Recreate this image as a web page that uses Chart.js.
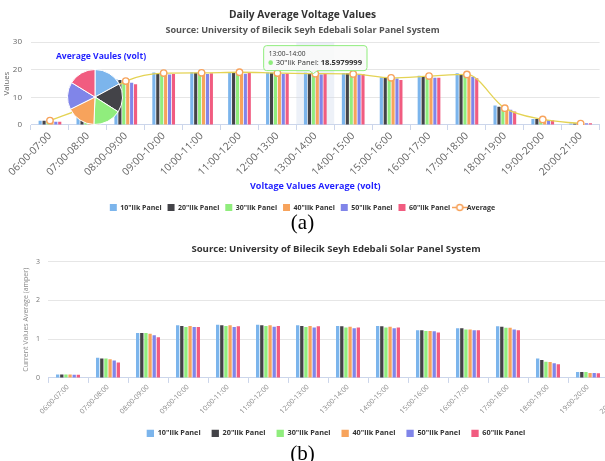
<!DOCTYPE html>
<html>
<head>
<meta charset="utf-8">
<script src="https://cdn.jsdelivr.net/npm/chart.js@4.4.0/dist/chart.umd.min.js"></script>
<style>
  html, body { margin:0; padding:0; background:#fff; }
  body { width:605px; height:461px; overflow:hidden; position:relative; }
  .box { position:absolute; }
  .cap { position:absolute; left:0; width:605px; text-align:center; font-family:"Liberation Serif", serif; font-size:21px; color:#000; line-height:22px; }
  #pieTitle { position:absolute; left:51px; top:50px; width:100px; text-align:center; font-family:"Open Sans", sans-serif; font-weight:bold; font-size:8.6px; color:#1f1fff; line-height:12px; white-space:nowrap; }
</style>
</head>
<body>
<div class="box" id="wrapA" style="left:0;top:0;width:605px;height:221px;"><canvas id="chartA"></canvas></div>
<div class="box" id="wrapPie" style="left:66px;top:68px;width:58px;height:58px;"><canvas id="chartPie"></canvas></div>
<div id="pieTitle">Average Vaules (volt)</div>
<div class="cap" style="top:211px;">(a)</div>
<div class="box" id="wrapB" style="left:0;top:233px;width:648px;height:214px;"><canvas id="chartB"></canvas></div>
<div class="cap" style="top:442px;">(b)</div>
<script>
// ---------- data ----------
const categories = ['06:00-07:00','07:00-08:00','08:00-09:00','09:00-10:00','10:00-11:00','11:00-12:00','12:00-13:00','13:00-14:00','14:00-15:00','15:00-16:00','16:00-17:00','17:00-18:00','18:00-19:00','19:00-20:00','20:00-21:00'];
const seriesNames = ['10"lik Panel','20"lik Panel','30"lik Panel','40"lik Panel','50"lik Panel','60"lik Panel'];

// voltage (a)
const volt10 = [1.5, 7.6, 16.6, 19.0, 19.1, 19.2, 19.0, 18.9, 18.8, 17.3, 17.8, 18.7, 7.1, 2.2, 0.5];
const volt20 = [1.5, 7.2, 16.3, 18.8, 18.9, 19.0, 18.9, 18.8, 18.7, 17.1, 17.7, 18.5, 6.6, 2.2, 0.5];
const volt30 = [1.5, 7.0, 16.2, 18.9, 18.9, 19.0, 18.8, 18.5979999, 18.6, 17.0, 17.5, 18.3, 5.8, 1.4, 0.4];
const volt40 = [1.4, 6.8, 16.3, 19.0, 19.1, 19.2, 19.0, 19.0, 18.9, 17.2, 17.8, 18.4, 6.2, 2.2, 0.5];
const volt50 = [1.2, 6.3, 15.3, 18.3, 18.5, 18.6, 18.5, 18.3, 18.3, 16.8, 17.1, 17.5, 5.5, 1.8, 0.6];
const volt60 = [1.2, 5.8, 14.8, 18.5, 18.7, 18.8, 18.7, 18.5, 18.5, 16.3, 17.1, 16.9, 4.9, 1.7, 0.6];
const voltAvg = [1.6, 7.0, 15.9, 18.8, 18.9, 19.1, 18.8, 18.6, 18.5, 17.1, 17.7, 18.3, 6.1, 2.0, 0.5];

// pie (average values, volt)
const pieValues = [13.2, 13.0, 12.8, 13.1, 12.4, 12.5];

// current (b)
const cur10 = [0.09, 0.52, 1.16, 1.36, 1.37, 1.37, 1.36, 1.34, 1.34, 1.23, 1.28, 1.33, 0.50, 0.15, 0.02];
const cur20 = [0.09, 0.50, 1.16, 1.34, 1.36, 1.36, 1.34, 1.33, 1.33, 1.23, 1.28, 1.32, 0.46, 0.15, 0.02];
const cur30 = [0.09, 0.50, 1.16, 1.31, 1.34, 1.34, 1.31, 1.30, 1.30, 1.21, 1.25, 1.29, 0.42, 0.15, 0.02];
const cur40 = [0.09, 0.48, 1.14, 1.34, 1.36, 1.36, 1.34, 1.32, 1.32, 1.21, 1.25, 1.29, 0.41, 0.13, 0.02];
const cur50 = [0.08, 0.45, 1.10, 1.31, 1.31, 1.32, 1.30, 1.28, 1.28, 1.20, 1.23, 1.25, 0.38, 0.13, 0.02];
const cur60 = [0.08, 0.40, 1.05, 1.31, 1.33, 1.34, 1.33, 1.30, 1.30, 1.17, 1.23, 1.23, 0.35, 0.12, 0.02];

const voltYTicks = [0, 10, 20, 30];
const curYTicks = [0, 1, 2, 3];
const tooltipIndex = 7, tooltipSeries = 2;

// ---------- styles ----------
const colors = ['#7cb5ec','#434348','#90ed7d','#f7a35c','#8085e9','#f15c80'];
const avgLine = '#e4d354', avgMarker = '#f7a35c';
const FONT = '"Open Sans", "DejaVu Sans", sans-serif';
Chart.defaults.font.family = FONT;
Chart.defaults.animation = false;

// legend symbol for the Average series
const avgSym = document.createElement('canvas');
avgSym.width = 16; avgSym.height = 9;
(() => { const c = avgSym.getContext('2d');
  c.strokeStyle = avgMarker; c.lineWidth = 1.5;
  c.beginPath(); c.moveTo(0,4.5); c.lineTo(16,4.5); c.stroke();
  c.fillStyle = '#fff'; c.beginPath(); c.arc(8,4.5,3,0,Math.PI*2); c.fill(); c.stroke(); })();

function legendLabels(chart) {
  return chart.data.datasets.map((ds, i) => {
    const isLine = ds.type === 'line';
    return { text: ds.label, fillStyle: isLine ? '#fff' : ds.backgroundColor,
      strokeStyle: isLine ? avgMarker : ds.backgroundColor, lineWidth: 0,
      pointStyle: isLine ? avgSym : 'rect', datasetIndex: i, hidden: false, fontColor: '#333' };
  });
}

// highlight band + tooltip for chart (a)
const highlightPlugin = {
  id: 'hl',
  beforeDatasetsDraw(chart) {
    const x = chart.scales.x, a = chart.chartArea, ctx = chart.ctx;
    const w = x.width / categories.length;
    const cx = x.getPixelForValue(tooltipIndex);
    ctx.save(); ctx.fillStyle = 'rgba(204,214,235,0.35)';
    ctx.fillRect(cx - w/2, a.top, w, a.bottom - a.top); ctx.restore();
  },
  afterDraw(chart) {
    const ctx = chart.ctx;
    const el = chart.getDatasetMeta(tooltipSeries).data[tooltipIndex];
    const bx = el.x, by = el.y;
    const title = categories[tooltipIndex].replace('-', '\u2013');
    const name = chart.data.datasets[tooltipSeries].label + ': ';
    const val = String(chart.data.datasets[tooltipSeries].data[tooltipIndex]);
    ctx.save();
    ctx.font = '6.6px ' + FONT; const tw = ctx.measureText(title).width;
    ctx.font = '7.6px ' + FONT; const nw = ctx.measureText(name).width;
    ctx.font = 'bold 7.6px ' + FONT; const vw = ctx.measureText(val).width;
    const W = Math.max(tw, nw + vw + 7) + 10, H = 25;
    const left = bx - W/2 + 2, bottom = by - 3, top = bottom - H, r = 3;
    ctx.beginPath();
    ctx.moveTo(left + r, top); ctx.lineTo(left + W - r, top); ctx.arcTo(left+W, top, left+W, top+r, r);
    ctx.lineTo(left + W, bottom - r); ctx.arcTo(left+W, bottom, left+W-r, bottom, r);
    ctx.lineTo(bx + 4, bottom); ctx.lineTo(bx, bottom + 3); ctx.lineTo(bx - 4, bottom);
    ctx.lineTo(left + r, bottom); ctx.arcTo(left, bottom, left, bottom - r, r);
    ctx.lineTo(left, top + r); ctx.arcTo(left, top, left + r, top, r); ctx.closePath();
    ctx.fillStyle = 'rgba(250,250,250,0.92)'; ctx.fill();
    ctx.strokeStyle = colors[tooltipSeries]; ctx.lineWidth = 1; ctx.stroke();
    ctx.textBaseline = 'middle'; ctx.fillStyle = '#333';
    ctx.font = '6.6px ' + FONT; ctx.fillText(title, left + 5, top + 8);
    ctx.fillStyle = colors[tooltipSeries]; ctx.beginPath(); ctx.arc(left + 7, top + 17, 2.3, 0, Math.PI*2); ctx.fill();
    ctx.fillStyle = '#333'; ctx.font = '7.6px ' + FONT; ctx.fillText(name, left + 12, top + 17);
    ctx.font = 'bold 7.6px ' + FONT; ctx.fillText(val, left + 12 + nw, top + 17);
    ctx.restore();
  }
};

// ---------- chart (a) ----------
const voltSeries = [volt10, volt20, volt30, volt40, volt50, volt60];
new Chart(document.getElementById('chartA'), {
  type: 'bar',
  data: {
    labels: categories,
    datasets: voltSeries.map((d, i) => ({ type: 'bar', label: seriesNames[i], data: d, backgroundColor: colors[i],
      categoryPercentage: 0.62, barPercentage: 0.8, order: 1 })).concat([{
      type: 'line', label: 'Average', data: voltAvg, borderColor: avgLine, backgroundColor: '#fff', borderWidth: 1.3,
      cubicInterpolationMode: 'monotone', pointRadius: 3.2, pointBackgroundColor: '#fff', pointBorderColor: avgMarker,
      pointBorderWidth: 1.4, order: 0 }])
  },
  options: {
    responsive: true, maintainAspectRatio: false,
    layout: { padding: { left: 0, right: 0, top: 0, bottom: 0 } },
    plugins: {
      title: { display: true, text: 'Daily Average Voltage Values', color: '#333', font: { size: 10.2, weight: 'bold' }, padding: { top: 9, bottom: 3 } },
      subtitle: { display: true, text: 'Source: University of Bilecik Seyh Edebali Solar Panel System', color: '#555', font: { size: 9.1, weight: 'bold' }, padding: { top: 1, bottom: 6 } },
      legend: { position: 'bottom', labels: { usePointStyle: true, generateLabels: legendLabels, boxWidth: 8, boxHeight: 8, font: { size: 7, weight: 'bold' }, color: '#333', padding: 6 } },
      tooltip: { enabled: false }
    },
    scales: {
      x: {
        afterFit(s) { s.height = s.height + 3; },
        grid: { display: true, offset: true, drawOnChartArea: false, drawTicks: true, tickLength: 5, color: '#ccd6eb' },
        border: { color: '#ccd6eb' },
        ticks: { minRotation: 45, maxRotation: 45, color: '#666', font: { size: 10.3 }, padding: 0, autoSkip: false },
        title: { display: true, text: 'Voltage Values Average (volt)', color: '#1f1fff', font: { size: 9, weight: 'bold' }, padding: { top: 0, bottom: 6 } }
      },
      y: {
        min: 0, max: 30,
        afterBuildTicks(s) { s.ticks = voltYTicks.map(v => ({ value: v })); },
        afterFit(s) { s.width = 31; },
        grid: { color: '#e6e6e6', drawTicks: false },
        border: { display: false },
        ticks: { color: '#666', font: { size: 8 }, padding: 9 },
        title: { display: true, text: 'Values', color: '#666', font: { size: 7.8 }, padding: { top: 2, bottom: 0 } }
      }
    }
  },
  plugins: [highlightPlugin]
});

// ---------- pie overlay ----------
new Chart(document.getElementById('chartPie'), {
  type: 'pie',
  data: { labels: seriesNames, datasets: [{ data: pieValues, backgroundColor: colors, borderColor: '#fff', borderWidth: 1 }] },
  options: { responsive: true, maintainAspectRatio: false, layout: { padding: 1 },
    plugins: { legend: { display: false }, tooltip: { enabled: false } } }
});

// ---------- chart (b) ----------
const curSeries = [cur10, cur20, cur30, cur40, cur50, cur60];
new Chart(document.getElementById('chartB'), {
  type: 'bar',
  data: { labels: categories, datasets: curSeries.map((d, i) => ({ label: seriesNames[i], data: d, backgroundColor: colors[i],
    categoryPercentage: 0.62, barPercentage: 0.8 })) },
  options: {
    responsive: true, maintainAspectRatio: false,
    layout: { padding: { left: 24, right: 0, top: 0, bottom: 0 } },
    plugins: {
      title: { display: true, text: 'Source: University of Bilecik Seyh Edebali Solar Panel System', color: '#333', font: { size: 9.6, weight: 'bold' }, padding: { top: 11, bottom: 6 } },
      legend: { position: 'bottom', labels: { usePointStyle: true, generateLabels: legendLabels, boxWidth: 8, boxHeight: 8, font: { size: 7.3, weight: 'bold' }, color: '#333', padding: 11 } },
      tooltip: { enabled: false }
    },
    scales: {
      x: {
        afterFit(s) { s.height = s.height + 3; },
        grid: { display: true, offset: true, drawOnChartArea: false, drawTicks: true, tickLength: 5, color: '#ccd6eb' },
        border: { color: '#ccd6eb' },
        ticks: { minRotation: 45, maxRotation: 45, color: '#888', font: { size: 7 }, padding: 0, autoSkip: false }
      },
      y: {
        min: 0, max: 3,
        afterBuildTicks(s) { s.ticks = curYTicks.map(v => ({ value: v })); },
        afterFit(s) { s.width = 24; },
        grid: { color: '#e6e6e6', drawTicks: false },
        border: { display: false },
        ticks: { color: '#777', font: { size: 7 }, padding: 8 },
        title: { display: true, text: 'Current Values Average (amper)', color: '#888', font: { size: 7 }, padding: { top: -2, bottom: 0 } }
      }
    }
  }
});
</script>
</body>
</html>
